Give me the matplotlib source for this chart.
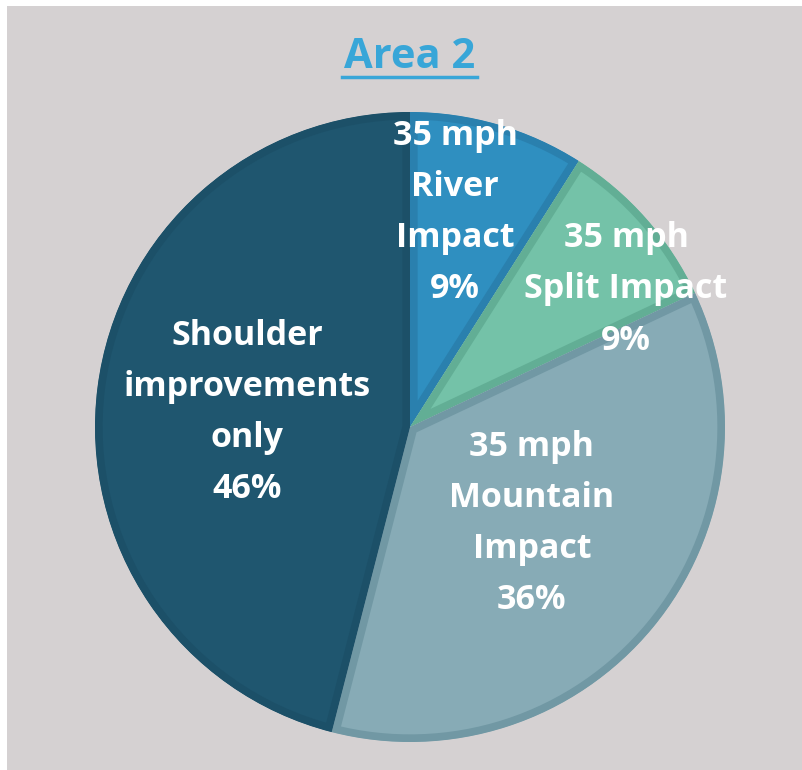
import matplotlib.pyplot as plt
from matplotlib.patches import Rectangle

# Datos del gráfico
etiquetas = ['35 mph\nRiver\nImpact', '35 mph\nSplit Impact',
             '35 mph\nMountain\nImpact', 'Shoulder\nimprovements\nonly']
valores = [9, 9, 36, 46]
colores = ['#2f8fc0', '#74c2a8', '#87abb6', '#1f566f']
bordes = ['#2a80ae', '#62ae95', '#7198a4', '#1c5068']

plt.rcParams['font.family'] = ['Open Sans', 'DejaVu Sans']

fig = plt.figure(figsize=(8.02, 7.70), dpi=100)
fig.patch.set_facecolor('white')

# Fondo gris del panel
fig.patches.append(Rectangle((7 / 802, 0), 1, 1 - 6 / 770,
                             transform=fig.transFigure, facecolor='#d5d1d2',
                             edgecolor='none', zorder=-10))

ax = fig.add_axes([95 / 802, 28 / 770, 630 / 802, 630 / 770])
ax.set_zorder(2)

wedges, _ = ax.pie(valores, colors=colores, startangle=90, counterclock=False,
                   radius=1, center=(0, 0), frame=True)
# borde interior: el trazo se recorta a la propia porción
for w, ec in zip(wedges, bordes):
    w.set_edgecolor(ec)
    w.set_linewidth(11)
    w.set_clip_on(True)
    w.set_clip_path(w)
ax.set_xlim(-1, 1)
ax.set_ylim(-1, 1)
ax.set_aspect('equal')
ax.axis('off')

# Posiciones de las etiquetas dentro de cada porción
pos_etiquetas = [(0.143, 0.681), (0.686, 0.437), (0.387, -0.307), (-0.517, 0.046)]
for (x, y), txt, v in zip(pos_etiquetas, etiquetas, valores):
    ax.text(x, y, f'{txt}\n{v}%', ha='center', va='center', color='white',
            fontsize=24.5, fontweight='bold', linespacing=1.66)

# Título subrayado
fig.text(410 / 802, 1 - 57 / 770, 'Area 2', ha='center', va='center',
         color='#38a6d8', fontsize=30, fontweight='bold')
fig.add_artist(plt.Line2D([342 / 802, 477 / 802], [1 - 77 / 770, 1 - 77 / 770],
                          color='#38a6d8', lw=2.5, transform=fig.transFigure))

plt.savefig('out.png', dpi=100, facecolor=fig.get_facecolor())
